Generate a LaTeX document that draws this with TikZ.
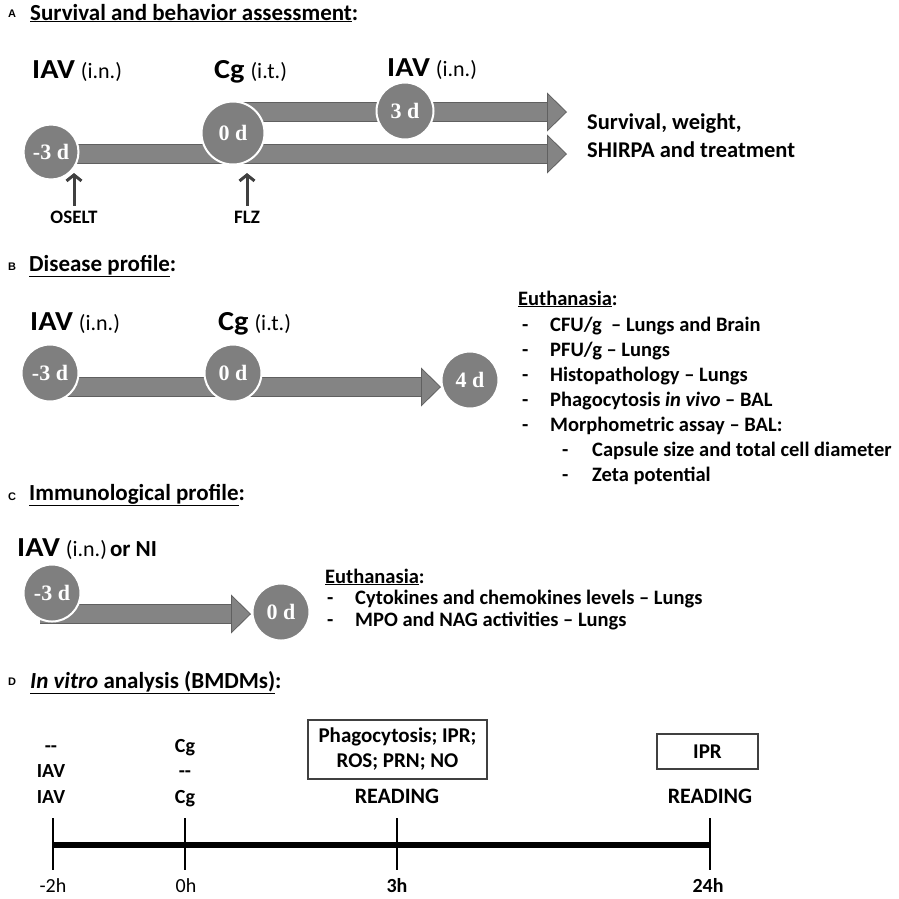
\documentclass[tikz,border=0pt]{standalone}
\usepackage{fontspec}
\setmainfont{Carlito}
\newfontfamily\whofont{Carlito}[FakeStretch=1.1]
\newfontfamily\dayfont{Liberation Serif}
\newfontfamily\panelfont{Liberation Sans}
\usepackage{tikz}
\usetikzlibrary{arrows.meta,positioning,backgrounds}

\definecolor{dayfill}{HTML}{7F7F7F}
\definecolor{shaftfill}{HTML}{848484}
\definecolor{shaftedge}{HTML}{606060}
\definecolor{darkedge}{HTML}{404040}

\newcommand{\fsz}[2]{\fontsize{#1}{#2}\selectfont}
\newcommand{\who}[1]{{\whofont\bfseries\fsz{27.5}{32}#1}}
\newcommand{\how}[1]{{\fsz{22}{26}#1}}
\newcommand{\gap}{\hspace{6pt}}
\newcommand{\bul}{\makebox[28pt][l]{-}}
\newcommand{\subbul}{\makebox[30pt][l]{-}}

\tikzset{
  lbl/.style={inner sep=0pt, anchor=base west},
  panel/.style={lbl, font=\panelfont\bfseries\fsz{11}{13}},
  head/.style={lbl, font=\bfseries\fsz{23}{27}},
  item/.style={lbl, font=\bfseries\fsz{20.5}{25}},
  note/.style={inner sep=0pt, outer sep=5pt, anchor=base, font=\bfseries\fsz{19}{23}},
  cell/.style={inner sep=0pt, anchor=base, font=\bfseries\fsz{20}{24}},
  hour/.style={inner sep=0pt, anchor=base, font=\fsz{20}{24}},
  day/.style={circle, fill=dayfill, draw=white, line width=2pt, inner sep=0pt,
    minimum size=57pt, text=white, font=\dayfont\bfseries\fsz{22}{26}},
  fat/.style={line width=18pt, shaftfill,
    -{Triangle[length=20pt, width=39pt, line width=0.8pt, color=shaftedge, fill=shaftfill]},
    preaction={-, draw=shaftedge, line width=19.6pt, shorten >=19pt}},
  pointer/.style={darkedge, line width=3pt, -{Straight Barb[length=6pt, width=15pt]}},
  timeline/.style={line width=6pt},
  tickline/.style={line width=2.5pt},
  readbox/.style={draw=darkedge, line width=1.8pt, inner sep=0pt, align=center,
    font=\bfseries\fsz{21}{25}},
}

\begin{document}
\begin{tikzpicture}[x=1pt, y=-1pt]
\useasboundingbox (0,0) rectangle (899,898);

% Panel A
  \node[panel] (pA)    at (8,17)    {A};
  \node[head]  (tA)    at (30,20)   {\underline{Survival and behavior assessment}:};
  \node[lbl]   (iavA)  at (32,78)   {\who{IAV}\gap\how{(i.n.)}};
  \node[lbl]   (cgA)   at (214,78)  {\who{Cg}\gap\how{(i.t.)}};
  \node[lbl]   (iav2A) at (387,76)  {\who{IAV}\gap\how{(i.n.)}};
  \node[day, minimum size=55pt] (m3A) at (51,152)  {-3 d};
  \node[day, minimum size=63pt] (d0A) at (233,133) {0 d};
  \node[day]                    (d3A) at (405,111) {3 d};
  \coordinate (endA1) at (567,154);
  \coordinate (endA2) at (567,112);
  \node[lbl, font=\bfseries\fsz{22.5}{28}] (survA)   at (587,129) {Survival, weight,};
  \node[lbl, font=\bfseries\fsz{22.5}{28}] (shirpaA) at (587,157) {SHIRPA and treatment};
  \node[note] (oselt) at (74,223)  {OSELT};
  \node[note] (flz)   at (247,223) {FLZ};
  \coordinate (osTip)  at (73,173);
  \coordinate (flzTip) at (247,173);
  \draw[pointer] (oselt.north) -- (oselt.north |- osTip);
  \draw[pointer] (flz.north)   -- (flz.north |- flzTip);

% Panel B
  \node[panel] (pB)   at (8,270)   {B};
  \node[head]  (tB)   at (29,271)  {\underline{Disease profile}:};
  \node[lbl]   (iavB) at (30,330)  {\who{IAV}\gap\how{(i.n.)}};
  \node[lbl]   (cgB)  at (218,330) {\who{Cg}\gap\how{(i.t.)}};
  \node[day] (m3B) at (50,373)  {-3 d};
  \node[day] (d0B) at (233,373) {0 d};
  \node[day] (d4B) at (470,380) {4 d};
  \coordinate (endB) at (441,387);
  \node[item] (euB)  at (518,305) {\underline{Euthanasia}:};
  \node[item] (euB1) at (522,331) {\bul CFU/g\ \ -- Lungs and Brain};
  \node[item] (euB2) at (522,356) {\bul PFU/g -- Lungs};
  \node[item] (euB3) at (522,381) {\bul Histopathology -- Lungs};
  \node[item] (euB4) at (522,406) {\bul Phagocytosis \textit{in vivo} -- BAL};
  \node[item] (euB5) at (522,431) {\bul Morphometric assay -- BAL:};
  \node[item] (euB6) at (562,456) {\subbul Capsule size and total cell diameter};
  \node[item] (euB7) at (562,481) {\subbul Zeta potential};

% Panel C
  \node[panel] (pC)   at (8,500)  {C};
  \node[head]  (tC)   at (29,500) {\underline{Immunological profile}:};
  \node[lbl]   (iavC) at (17,556) {\who{IAV}\gap\how{(i.n.)} {\bfseries\fsz{23}{27}or NI}};
  \node[day] (m3C) at (52,593)  {-3 d};
  \node[day] (d0C) at (281,612) {0 d};
  \coordinate (endC) at (251,614);
  \node[item] (euC)  at (325,583) {\underline{Euthanasia}:};
  \node[item] (euC1) at (327,604) {\bul Cytokines and chemokines levels -- Lungs};
  \node[item] (euC2) at (327,626) {\bul MPO and NAG activities -- Lungs};

% Panel D
  \node[panel] (pD) at (8,685)  {D};
  \node[head]  (tD) at (30,688) {\underline{\textit{In vitro} analysis (BMDMs)}:};
  \coordinate (t0) at (53,845);
  \coordinate (t1) at (185,845);
  \coordinate (t2) at (397,845);
  \coordinate (t3) at (710,845);
  \draw[timeline] (t0) -- (t3);
  \draw[tickline] (t0) ++(0,-27) -- ++(0,52);
  \draw[tickline] (t1) ++(0,-27) -- ++(0,52);
  \draw[tickline] (t2) ++(0,-27) -- ++(0,52);
  \draw[tickline] (t3) ++(0,-27) -- ++(0,52);
  \node[cell] (c0a) at (51,752)  {-{}-};
  \node[cell] (c0b) at (51,777)  {IAV};
  \node[cell] (c0c) at (51,803)  {IAV};
  \node[cell] (c1a) at (185,752) {Cg};
  \node[cell] (c1b) at (185,777) {-{}-};
  \node[cell] (c1c) at (185,803) {Cg};
  \node[readbox, minimum width=179pt, minimum height=59pt] (box2) at (397.5,749.5)
    {Phagocytosis; IPR;\\ROS; PRN; NO};
  \node[readbox, minimum width=101pt, minimum height=35pt] (box3) at (707.5,751.5) {IPR};
  \node[cell, font=\bfseries\fsz{22}{26}] (rd2) at (397,803) {READING};
  \node[cell, font=\bfseries\fsz{22}{26}] (rd3) at (710,803) {READING};
  \node[hour] (h0) at (53,892)  {-2h};
  \node[hour] (h1) at (186,892) {0h};
  \node[hour, font=\bfseries\fsz{20}{24}] (h2) at (397,892) {3h};
  \node[hour, font=\bfseries\fsz{20}{24}] (h3) at (708,892) {24h};

% Edges
\begin{scope}[on background layer]
  \fill[white] (0,0) rectangle (899,898);
  \draw[fat] (m3A.center |- endA1) -- (endA1);
  \draw[fat] (d0A.center |- endA2) -- (endA2);
  \draw[fat] (m3B.center |- endB)  -- (endB);
  \draw[fat] ([xshift=-12pt]m3C.center |- endC) -- (endC);
\end{scope}

\end{tikzpicture}
\end{document}
